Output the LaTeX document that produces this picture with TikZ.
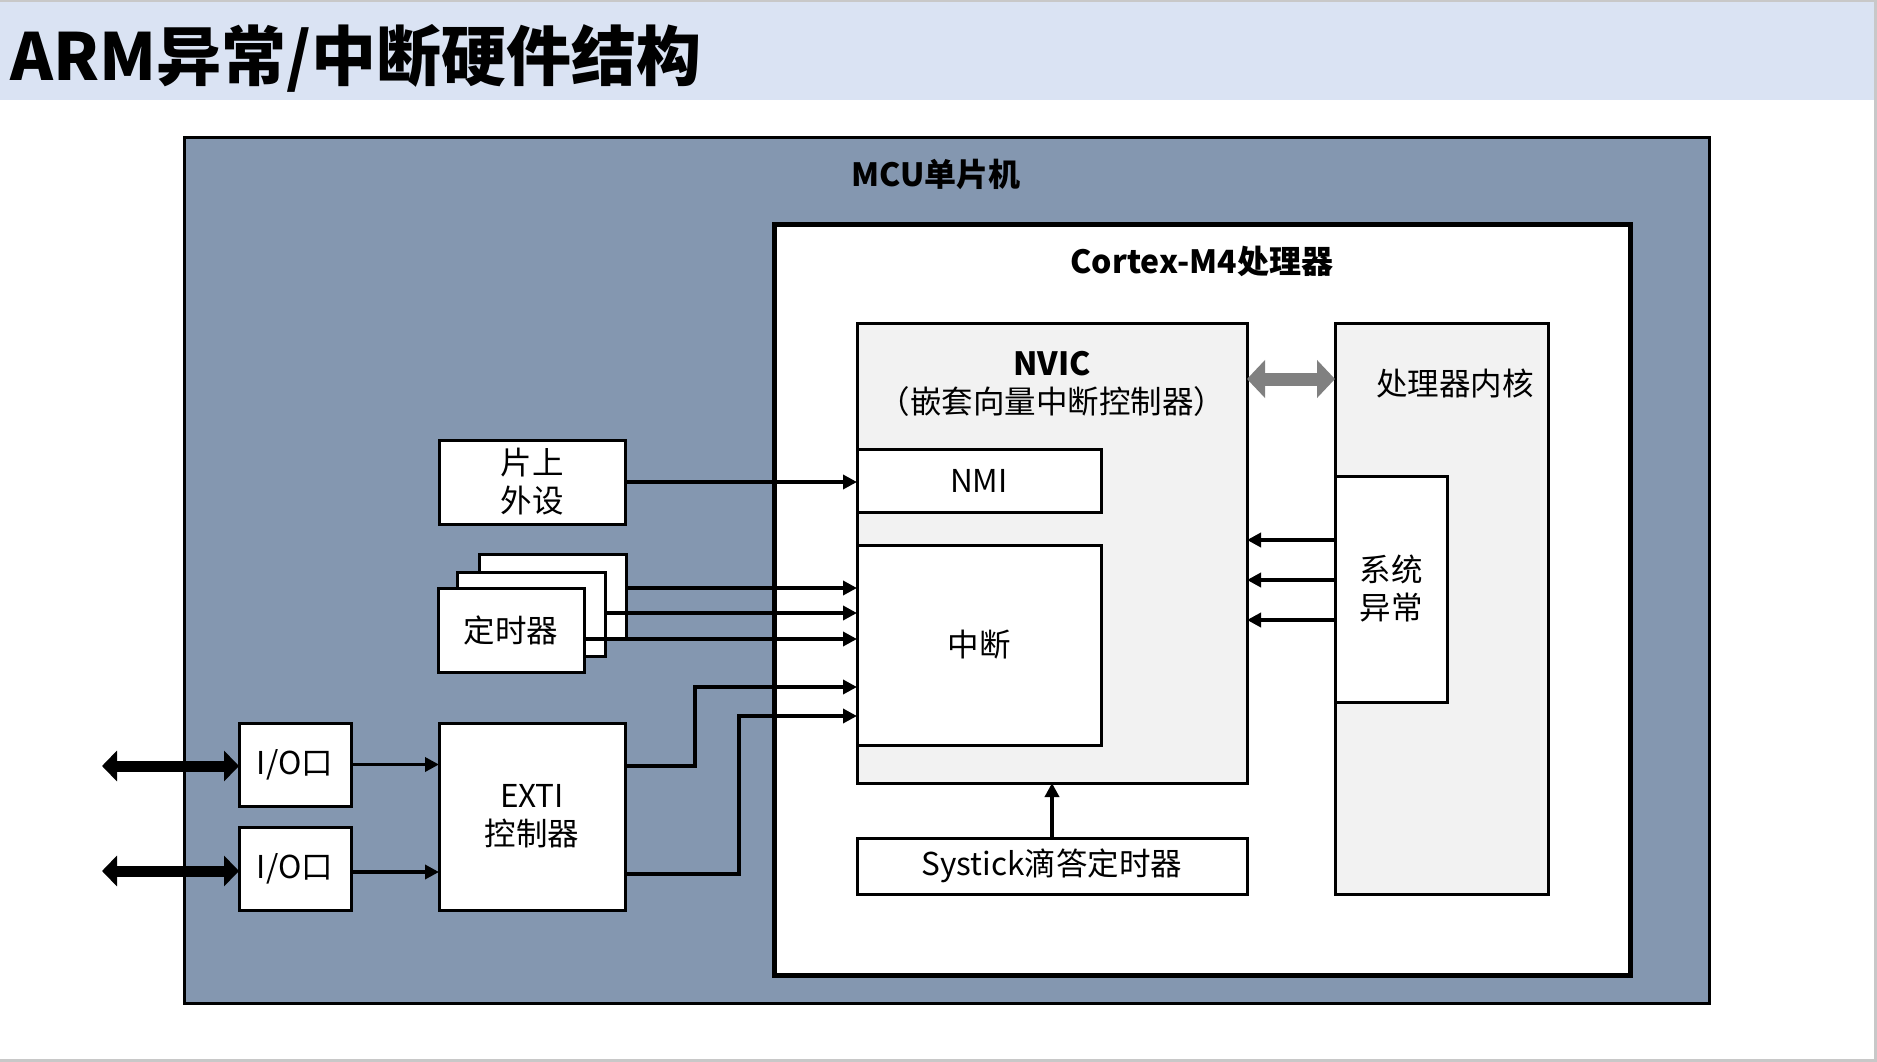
\documentclass[tikz,border=0pt]{standalone}
\usepackage{fontspec}
\setmainfont{Noto Sans CJK SC}
\usetikzlibrary{arrows.meta}
\definecolor{titlebg}{HTML}{DAE3F3}
\definecolor{mcufill}{HTML}{8497B0}
\definecolor{nvicfill}{HTML}{F2F2F2}
\definecolor{arrgray}{HTML}{808080}
\definecolor{edgegray}{HTML}{C8C8C8}
\tikzset{
  blk/.style={draw=black, line width=3pt, inner sep=0pt, outer sep=0pt,
    anchor=north west, align=center, fill=white,
    font=\fontsize{31.5}{38}\selectfont},
  greybox/.style={blk, fill=nvicfill},
  lbl/.style={inner sep=0pt, align=center, font=\fontsize{31.5}{38}\selectfont},
  hdr/.style={inner sep=0pt, font=\bfseries\fontsize{32}{38}\selectfont},
  sig/.style={line width=3.5pt, -{Triangle[length=14pt,width=14pt]}},
  bus/.style={line width=11pt, {Triangle[length=15pt,width=30pt]}-{Triangle[length=15pt,width=30pt]}},
  gbus/.style={arrgray, line width=13pt, {Triangle[length=18pt,width=37pt]}-{Triangle[length=18pt,width=37pt]}},
}
\begin{document}
\begin{tikzpicture}[x=1pt,y=-1pt]
\useasboundingbox (0,0) rectangle (1877,1062);
% title bar
\node[fill=titlebg, inner sep=0pt, outer sep=0pt, anchor=north west,
  minimum width=1877pt, minimum height=100pt] (titlebar) at (0,0) {};
\draw[edgegray, line width=2pt] (0,1) -- (1877,1);
\node[anchor=west, inner sep=0pt, font=\bfseries\fontsize{65}{72}\selectfont] (title) at (10,58) {ARM异常/中断硬件结构};
\draw[edgegray, line width=3pt] (1875.5,0) -- (1875.5,1060.5) -- (0,1060.5);

% MCU
\node[blk, fill=mcufill, minimum width=1525pt, minimum height=865pt] (mcu) at (184,138) {};
\node[hdr] (mcul) at (936,174) {MCU单片机};

% Cortex
\node[blk, line width=5pt, minimum width=856pt, minimum height=751pt] (cortex) at (774,224) {};
\node[hdr] (cortexl) at (1202,261) {Cortex-M4处理器};

% NVIC
\node[greybox, minimum width=390pt, minimum height=460pt] (nvic) at (857,323) {};
\node[hdr] (nvicl) at (1052,364) {NVIC};
\node[lbl] (nvicl2) at (1052,402) {（嵌套向量中断控制器）};
\node[blk, minimum width=244pt, minimum height=63pt] (nmi) at (857,449) {NMI};
\node[blk, minimum width=244pt, minimum height=200pt] (int) at (857,545) {中断};
\node[blk, minimum width=390pt, minimum height=56pt] (sys) at (857,838) {Systick滴答定时器};

% core
\node[greybox, minimum width=213pt, minimum height=571pt] (core) at (1335,323) {};
\node[lbl] (corel) at (1455,383) {处理器内核};
\node[blk, minimum width=112pt, minimum height=226pt] (sysex) at (1335,476) {系统\\异常};

% peripherals
\node[blk, minimum width=186pt, minimum height=84pt] (pian) at (439,440) {片上\\外设};
\node[blk, minimum width=147pt, minimum height=84pt] (tback) at (479,554) {};
\node[blk, minimum width=148pt, minimum height=84pt] (tmid) at (457,572) {};
\node[blk, minimum width=146pt, minimum height=84pt] (tfront) at (438,588) {定时器};
\node[blk, minimum width=186pt, minimum height=187pt] (exti) at (439,723) {EXTI\\控制器};
\node[blk, minimum width=112pt, minimum height=83pt] (io1) at (239,723) {I/O口};
\node[blk, minimum width=112pt, minimum height=83pt] (io2) at (239,827) {I/O口};

% connectors
\draw[sig] (pian.east) -- (pian.east -| nmi.west);
\draw[sig] (tback.east |- 0,588) -- (int.west |- 0,588);
\draw[sig] (tmid.east |- 0,613) -- (int.west |- 0,613);
\draw[sig] (tfront.east |- 0,639) -- (int.west |- 0,639);
\draw[sig] (exti.east |- 0,766) -- (695,766) |- (int.west |- 0,687);
\draw[sig] (exti.east |- 0,874) -- (739,874) |- (int.west |- 0,716);
\draw[sig] (io1.east) -- (io1.east -| exti.west);
\draw[sig] (io2.east |- 0,872) -- (exti.west |- 0,872);
\coordinate (ext1) at (102,766);
\coordinate (ext2) at (102,871);
\draw[bus] (ext1) -- (io1.west |- ext1);
\draw[bus] (ext2) -- (io2.west |- ext2);
\draw[sig] (sys.north) -- (nvic.south);
\draw[sig] (sysex.west |- 0,540) -- (nvic.east |- 0,540);
\draw[sig] (sysex.west |- 0,580) -- (nvic.east |- 0,580);
\draw[sig] (sysex.west |- 0,620) -- (nvic.east |- 0,620);
\draw[gbus] (nvic.east |- 0,379) -- (core.west |- 0,379);
\end{tikzpicture}
\end{document}
